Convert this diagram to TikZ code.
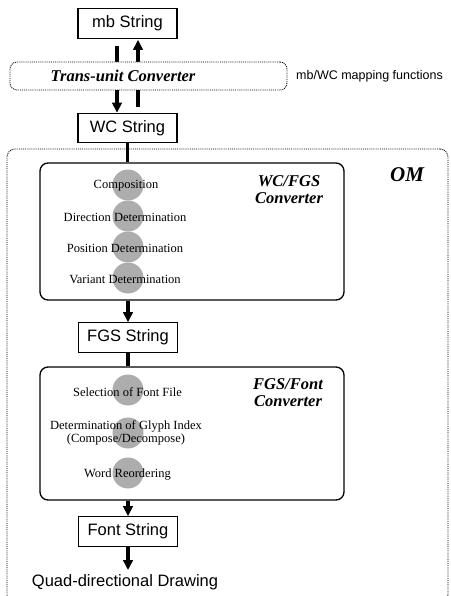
\documentclass[tikz,border=0pt]{standalone}
\usepackage{fontspec}
\setmainfont{Liberation Sans}
\newfontfamily\serif{Liberation Serif}
\usetikzlibrary{arrows.meta}
\tikzset{
  strbox/.style={draw, line width=1.1pt, minimum width=99pt, minimum height=29.5pt, inner sep=0pt, font=\fontsize{16.5}{18}\selectfont},
  dotframe/.style={draw, densely dotted, line width=0.9pt, rounded corners=7pt, inner sep=0pt},
  convbox/.style={draw, line width=1.3pt, rounded corners=8pt, minimum width=304pt, inner sep=0pt},
  dot/.style={circle, fill=black!32, minimum size=31pt, inner sep=0pt},
  item/.style={font=\serif\fontsize{12.5}{11}\selectfont, inner sep=0pt, align=center},
  convlabel/.style={font=\serif\bfseries\itshape\fontsize{16.5}{17}\selectfont, inner sep=0pt, align=center},
  bigline/.style={line width=3.5pt},
  bigarrow/.style={line width=3.5pt, -{Triangle[width=9.5pt,length=10pt]}},
}
\begin{document}
\begin{tikzpicture}[x=1pt,y=-1pt]
\useasboundingbox (0,0) rectangle (450,596);
\clip (0,0) rectangle (450,596);
\fill[white] (0,0) rectangle (450,596);

% top string boxes
\node[strbox] (mb) at (127.5,23.5) {mb String};
\node[strbox] (wc) at (127.5,128) {WC String};

% arrows through the trans-unit converter
\draw[bigarrow] ([xshift=-10.5pt,yshift=-7pt]mb.south) -- ([xshift=-10.5pt]wc.north);
\draw[bigarrow] ([xshift=10.5pt,yshift=6pt]wc.north) -- ([xshift=10.5pt,yshift=-1pt]mb.south);

\node[dotframe, fill=white, minimum width=277pt, minimum height=28pt] (tu) at (148.5,76) {};
\node[convlabel] (tutext) at (123,76) {Trans-unit Converter};
\node[anchor=west, inner sep=0pt, font=\fontsize{12.5}{14}\selectfont] (map) at (296,76) {mb/WC mapping functions};

% OM frame
\node[dotframe, rounded corners=8pt, minimum width=441pt, minimum height=454pt] (om) at (227.5,376) {};
\node[font=\serif\bfseries\itshape\fontsize{21}{22}\selectfont, inner sep=0pt] (omlabel) at (407,175) {OM};

% WC/FGS converter
\node[convbox, minimum height=137pt] (conv1) at (192,231.5) {};
\node[convlabel] (c1label) at (289,190) {WC/FGS\\Converter};
\node[dot] (d1) at (128,185) {};
\node[dot] (d2) at (128,216) {};
\node[dot] (d3) at (128,247) {};
\node[dot] (d4) at (128,278) {};
\node[item] (t1) at (126,186) {Composition};
\node[item] (t2) at (125,217) {Direction Determination};
\node[item] (t3) at (125,248) {Position Determination};
\node[item] (t4) at (125,279) {Variant Determination};

\node[strbox] (fgs) at (128,337.5) {FGS String};

% FGS/Font converter
\node[convbox, minimum height=133pt] (conv2) at (192,433.5) {};
\node[convlabel] (c2label) at (288,393) {FGS/Font\\Converter};
\node[dot] (e1) at (128,390) {};
\node[dot] (e2) at (128,433) {};
\node[dot] (e3) at (128,473) {};
\node[item] (s1) at (127.5,392) {Selection of Font File};
\node[item] (s2) at (126,433) {Determination of Glyph Index\\(Compose/Decompose)};
\node[item] (s3) at (127.5,475) {Word Reordering};

\node[strbox] (fs) at (128,531.5) {Font String};
\node[inner sep=0pt, font=\fontsize{16.5}{18}\selectfont] (quad) at (125,582) {Quad-directional Drawing};

% connectors
\draw[bigline] (wc.south) -- (wc.south |- conv1.north);
\draw[bigarrow] (conv1.south -| fgs.north) -- (fgs.north);
\draw[bigline] (fgs.south) -- (fgs.south |- conv2.north);
\draw[bigarrow] (conv2.south -| fs.north) -- (fs.north);
\draw[bigarrow] (fs.south) -- ([yshift=4pt]quad.north -| fs.south);
\end{tikzpicture}
\end{document}
